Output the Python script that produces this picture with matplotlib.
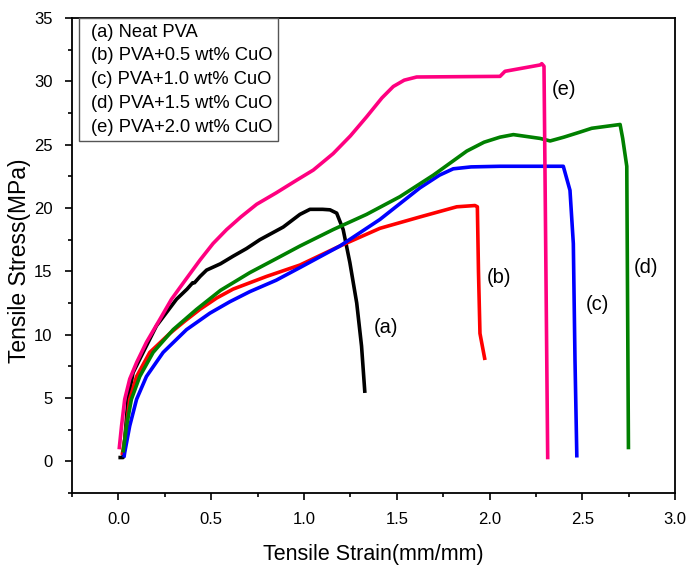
import matplotlib
matplotlib.use("Agg")
import matplotlib.pyplot as plt
from matplotlib.lines import Line2D
from matplotlib.ticker import MultipleLocator

plt.rcParams['font.family'] = ['Liberation Sans', 'DejaVu Sans']

# (a) Neat PVA
a_x = [0.0, 0.025, 0.034, 0.052, 0.079, 0.133, 0.205, 0.313, 0.37, 0.40, 0.41, 0.44, 0.475, 0.55,
       0.618, 0.69, 0.762, 0.888, 0.978, 1.032, 1.10, 1.14, 1.176, 1.211, 1.247, 1.284, 1.31, 1.328]
a_y = [0.3, 0.3, 1.7, 4.9, 7.0, 8.6, 10.7, 12.8, 13.6, 14.1, 14.1, 14.6, 15.1, 15.6,
       16.2, 16.8, 17.5, 18.5, 19.5, 19.9, 19.9, 19.86, 19.6, 18.3, 15.7, 12.5, 9.1, 5.4]
# (b) PVA+0.5 wt% CuO
b_x = [0.02, 0.034, 0.061, 0.098, 0.169, 0.277, 0.36, 0.439, 0.53, 0.618, 0.798, 0.978, 1.193,
       1.409, 1.625, 1.823, 1.921, 1.934, 1.94, 1.948, 1.975]
b_y = [0.5, 1.7, 4.9, 6.7, 8.6, 10.1, 11.1, 12.0, 12.9, 13.6, 14.6, 15.5, 17.0,
       18.4, 19.3, 20.1, 20.2, 20.1, 15.0, 10.1, 8.0]
# (c) PVA+1.0 wt% CuO
c_x = [0.03, 0.034, 0.061, 0.098, 0.151, 0.241, 0.367, 0.493, 0.60, 0.708, 0.85, 0.978, 1.193,
       1.409, 1.625, 1.73, 1.804, 1.90, 2.056, 2.397, 2.433, 2.451, 2.46, 2.47]
c_y = [0.3, 0.7, 2.8, 4.9, 6.7, 8.6, 10.4, 11.7, 12.6, 13.4, 14.3, 15.3, 17.0,
       19.1, 21.6, 22.6, 23.1, 23.25, 23.3, 23.3, 21.4, 17.2, 8.0, 0.3]
# (d) PVA+1.5 wt% CuO
d_x = [0.025, 0.044, 0.07, 0.115, 0.187, 0.295, 0.421, 0.55, 0.708, 0.85, 0.978, 1.157, 1.337,
       1.517, 1.697, 1.877, 1.97, 2.056, 2.128, 2.272, 2.326, 2.40, 2.487, 2.55, 2.703, 2.717,
       2.739, 2.748]
d_y = [0.7, 2.8, 4.9, 6.7, 8.6, 10.4, 12.0, 13.5, 14.9, 16.0, 17.0, 18.3, 19.5,
       20.9, 22.6, 24.5, 25.2, 25.6, 25.8, 25.5, 25.3, 25.6, 26.0, 26.3, 26.6, 25.5,
       23.3, 0.95]
# (e) PVA+2.0 wt% CuO
e_x = [0.004, 0.017, 0.034, 0.061, 0.098, 0.151, 0.223, 0.286, 0.36, 0.44, 0.51, 0.583, 0.66,
       0.745, 0.85, 0.96, 1.05, 1.157, 1.25, 1.337, 1.42, 1.481, 1.54, 1.607, 2.056, 2.083,
       2.272, 2.281, 2.293, 2.313]
e_y = [0.95, 2.8, 4.9, 6.5, 7.8, 9.4, 11.2, 12.8, 14.3, 15.9, 17.2, 18.3, 19.3,
       20.3, 21.2, 22.2, 23.0, 24.3, 25.7, 27.2, 28.7, 29.6, 30.1, 30.35, 30.4, 30.8,
       31.3, 31.4, 31.2, 0.16]

legend_labels = ["(a) Neat PVA", "(b) PVA+0.5 wt% CuO", "(c) PVA+1.0 wt% CuO",
                 "(d) PVA+1.5 wt% CuO", "(e) PVA+2.0 wt% CuO"]
curve_tags = ["(a)", "(b)", "(c)", "(d)", "(e)"]
tag_x = [1.44, 2.05, 2.58, 2.84, 2.40]
tag_y = [10.6, 14.5, 12.4, 15.3, 29.4]

xs = [a_x, b_x, c_x, d_x, e_x]
ys = [a_y, b_y, c_y, d_y, e_y]
colors = ["#000000", "#ff0000", "#0000ff", "#008000", "#ff0080"]

fig = plt.figure(figsize=(6.89, 5.66), dpi=100)
ax = fig.add_axes([0.1045, 0.129, 0.8755, 0.839])

for x, y, c in zip(xs, ys, colors):
    ax.plot(x, y, color=c, lw=2.6, solid_joinstyle='round', solid_capstyle='butt')

for t, tx, ty in zip(curve_tags, tag_x, tag_y):
    ax.text(tx, ty, t, fontsize=14.5, ha='center', va='center')

ax.set_xlim(-0.25, 3.0)
ax.set_ylim(-2.5, 35)
ax.xaxis.set_minor_locator(MultipleLocator(0.25))
ax.yaxis.set_major_locator(MultipleLocator(5))
ax.yaxis.set_minor_locator(MultipleLocator(2.5))
ax.set_xticks([0.0, 0.5, 1.0, 1.5, 2.0, 2.5, 3.0])
ax.set_xticklabels(["0.0", "0.5", "1.0", "1.5", "2.0", "2.5", "3.0"])
ax.tick_params(which='major', direction='out', length=5, width=1.2, labelsize=12, pad=9)
ax.tick_params(which='minor', direction='out', length=3, width=1.2)
ax.tick_params(top=False, right=False)
for s in ax.spines.values():
    s.set_linewidth(1.3)

ax.set_xlabel("Tensile Strain(mm/mm)", fontsize=15.5, labelpad=12)
ax.set_ylabel("Tensile Stress(MPa)", fontsize=16.5)
ax.yaxis.set_label_coords(-0.068, 0.49)

handles = [Line2D([], [], linestyle='none') for _ in legend_labels]
leg = ax.legend(handles, legend_labels, loc='upper left', bbox_to_anchor=(0.012, 1.0),
                fontsize=13.2, handlelength=0.35, handletextpad=0, borderpad=0.3,
                labelspacing=0.37, fancybox=False, framealpha=1, borderaxespad=0)
leg.get_frame().set_edgecolor('#555555')
leg.get_frame().set_linewidth(1.0)

fig.savefig("out.png", dpi=100)
